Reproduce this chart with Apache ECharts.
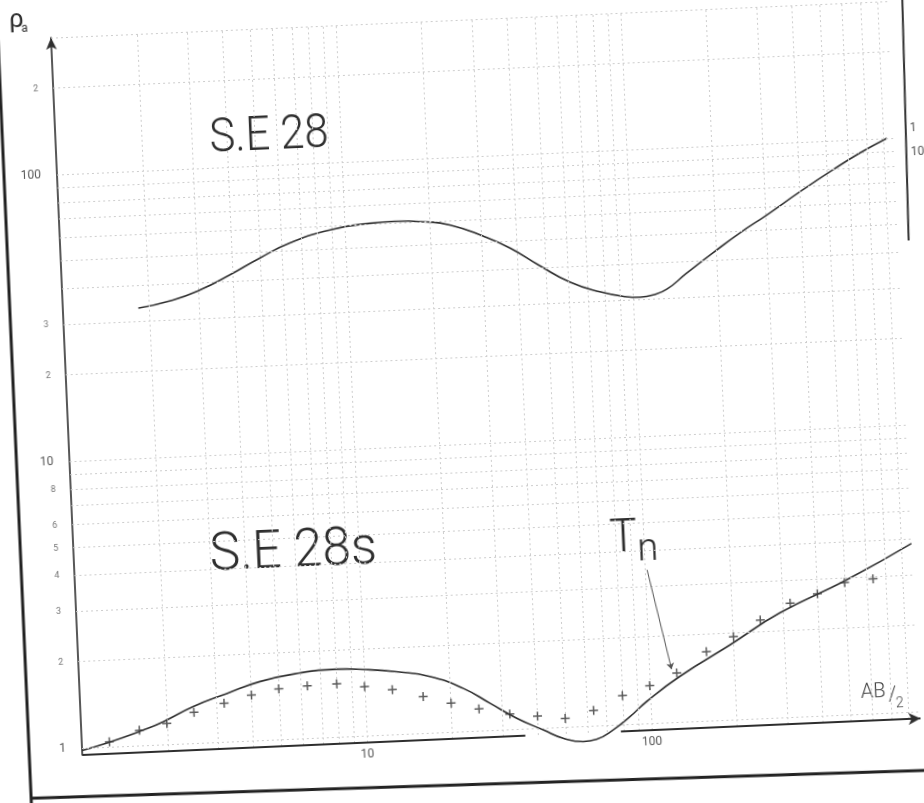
<!DOCTYPE html>
<html>
<head>
<meta charset="utf-8">
<script src="https://cdn.jsdelivr.net/npm/echarts@6/dist/echarts.min.js"></script>
<style>
html,body{margin:0;padding:0;background:#fff;overflow:hidden;width:924px;height:803px;}
#chart{position:absolute;left:0;top:0;width:990px;height:830px;transform-origin:82px 748px;transform:rotate(-2.5deg);}
</style>
</head>
<body>
<div id="chart"></div>
<script>
// ---- data (AB/2 in m, apparent resistivity in ohm.m) ----
const upperX = [1.84, 2.44, 3.05, 3.9, 5.0, 6.4, 8.9, 12.3, 15, 19, 23.4, 30.5, 37.8, 47.8, 60.5, 76.8, 94, 106, 118, 132, 156, 194, 243, 304, 400, 526, 658, 823];
const upperY = [33.3, 35.1, 37.7, 42.1, 47.7, 53.2, 58.3, 60.6, 61.0, 60.2, 58.2, 52.6, 47.3, 40.6, 35.3, 32.3, 30.8, 30.5, 30.9, 32.2, 36.4, 42.4, 49.3, 56.4, 67.1, 79.1, 89.7, 100];

const lowerX = [1.0, 1.22, 1.65, 1.95, 2.49, 3.28, 4.31, 5.97, 8.03, 9.96, 13.0, 17.0, 22.2, 27.4, 33.8, 41.7, 48.8, 57.3, 63.9, 73.3, 84.3, 97, 128, 194, 293, 508, 870];
const lowerY = [0.98, 1.03, 1.13, 1.20, 1.34, 1.47, 1.60, 1.69, 1.72, 1.70, 1.65, 1.57, 1.41, 1.24, 1.09, 0.983, 0.913, 0.883, 0.895, 0.959, 1.06, 1.19, 1.44, 1.82, 2.31, 2.94, 3.85];

const crossX = [1.25, 1.6, 2, 2.5, 3.2, 4, 5, 6.3, 8, 10, 12.5, 16, 20, 25, 32, 40, 50, 63, 80, 100, 125, 160, 200, 250, 320, 400, 500, 630];
const crossY = [1.04, 1.13, 1.18, 1.28, 1.36, 1.44, 1.50, 1.52, 1.53, 1.48, 1.43, 1.34, 1.26, 1.19, 1.13, 1.10, 1.07, 1.13, 1.26, 1.35, 1.48, 1.74, 1.94, 2.20, 2.49, 2.66, 2.88, 2.94];

const xTickLabels = [10, 100];
const yTickLabels = [1, 10, 100];
const yMinorLabels = [2, 3, 4, 5, 6, 8, 20, 30, 200];
const xGridValues = [2,3,4,5,6,7,8,9,10,20,30,40,50,60,70,80,90,100,200,300,400,500,600,700,800];
const yGridValues = [1,2,3,4,5,6,7,8,9,10,20,30,40,50,60,70,80,90,100,200,300];
const xMin = 1, xMax = 880, yMin = 0.945, yMax = 300;
const axisGap = [36, 78];
const tnArrowFrom = [102, 3.42];
const tnArrowTo = [120, 1.53];

// ---- chart ----
const chart = echarts.init(document.getElementById('chart'), null, {renderer: 'canvas'});
const pair = (xs, ys) => xs.map((x, i) => [x, ys[i]]);
const FONT = 'Roboto, "DejaVu Sans", sans-serif';
const INK = '#2e2e2e';
const isTick = (v, list) => {
  const r = Math.round(v);
  return r > 0 && Math.abs(v / r - 1) < 1e-6 && list.includes(r);
};

const gridData = [];
yGridValues.forEach(v => {
  const start = {coord: [xMin, v]};
  if (yMinorLabels.includes(v)) {
    start.label = {show: true, position: 'start', distance: 15, formatter: String(v).charAt(0), color: '#777', fontSize: 9, fontFamily: FONT};
  }
  gridData.push([start, {coord: [xMax, v]}]);
});
xGridValues.forEach(v => gridData.push([{coord: [v, yMin]}, {coord: [v, yMax]}]));

const plusPath = 'path://M5,0H7V5H12V7H7V12H5V7H0V5H5Z';

const option = {
  animation: false,
  backgroundColor: '#ffffff',
  grid: {left: 82, right: 990 - 82 - 839, top: 37, bottom: 830 - 755, containLabel: false},
  xAxis: {
    type: 'log', logBase: 10, min: xMin, max: xMax,
    axisLine: {show: false}, axisTick: {show: false}, splitLine: {show: false},
    axisLabel: {margin: 6, color: '#555', fontSize: 12, fontFamily: FONT,
      formatter: v => isTick(v, xTickLabels) ? String(Math.round(v)) : ''}
  },
  yAxis: {
    type: 'log', logBase: 10, min: yMin, max: yMax,
    axisLine: {show: true, symbol: ['none', 'arrow'], symbolSize: [8, 12], lineStyle: {color: INK, width: 1.6}},
    axisTick: {show: false}, splitLine: {show: false},
    axisLabel: {margin: 16, color: '#555', fontSize: 12, fontFamily: FONT,
      formatter: v => isTick(v, yTickLabels) ? String(Math.round(v)) : ''}
  },
  series: [
    {
      name: 'grid', type: 'line', data: [], symbol: 'none', silent: true, z: 1, clip: false,
      markLine: {silent: true, symbol: 'none', animation: false, label: {show: false},
        lineStyle: {color: '#cdcdcd', width: 1, type: [2, 3]}, emphasis: {disabled: true}, data: gridData}
    },
    {
      name: 'axis', type: 'line', data: [], symbol: 'none', silent: true, z: 3, clip: false,
      markLine: {silent: true, symbol: 'none', animation: false, label: {show: false},
        lineStyle: {color: INK, width: 2.2, type: 'solid'}, emphasis: {disabled: true},
        data: [
          [{coord: [xMin, yMin]}, {coord: [axisGap[0], yMin]}],
          [{coord: [axisGap[1], yMin]}, {coord: [xMax, yMin], symbol: 'arrow', symbolSize: [9, 12]}]
        ]}
    },
    {
      name: 'S.E 28', type: 'line', smooth: 0.5, symbol: 'none', z: 4,
      data: pair(upperX, upperY), lineStyle: {color: INK, width: 1.6}
    },
    {
      name: 'S.E 28s', type: 'line', smooth: 0.5, symbol: 'none', clip: false, z: 4,
      data: pair(lowerX, lowerY), lineStyle: {color: INK, width: 1.6}
    },
    {
      name: 'S.E 28s points', type: 'scatter', symbol: plusPath, symbolSize: 9, z: 5, clip: false,
      data: pair(crossX, crossY), itemStyle: {color: '#333'}
    },
    {
      name: 'Tn', type: 'line', data: [], symbol: 'none', silent: true, z: 5, clip: false,
      markLine: {silent: true, symbol: ['none', 'arrow'], symbolSize: 6, animation: false, label: {show: false},
        lineStyle: {color: '#555', width: 1, type: 'solid'}, emphasis: {disabled: true},
        data: [[{coord: tnArrowFrom}, {coord: tnArrowTo}]]}
    }
  ],
  graphic: [
    {type: 'line', shape: {x1: 29, y1: -40, x2: 29, y2: 860}, style: {stroke: '#222', lineWidth: 3}, silent: true},
    {type: 'line', shape: {x1: 29, y1: 796, x2: 1000, y2: 808}, style: {stroke: '#222', lineWidth: 3}, silent: true},
    {type: 'line', shape: {x1: 935, y1: -10, x2: 930, y2: 277}, style: {stroke: '#333', lineWidth: 2}, silent: true},
    {type: 'text', x: 936, y: 165, style: {text: '1', fontSize: 12, fontFamily: FONT, fill: '#555', textVerticalAlign: 'middle'}},
    {type: 'text', x: 936, y: 189, style: {text: '10', fontSize: 12, fontFamily: FONT, fill: '#555', textVerticalAlign: 'middle'}},
    {type: 'text', x: 236, y: 146, scaleX: 0.9, style: {text: 'S.E 28', fontSize: 48, fontWeight: 300, fontFamily: FONT, fill: INK, textAlign: 'left', textVerticalAlign: 'middle'}},
    {type: 'text', x: 218, y: 562, scaleX: 0.95, style: {text: 'S.E 28s', fontSize: 54, fontWeight: 300, fontFamily: FONT, fill: INK, textAlign: 'left', textVerticalAlign: 'middle'}},
    {type: 'text', x: 632, y: 563, style: {text: 'T', fontSize: 46, fontWeight: 300, fontFamily: FONT, fill: INK, textAlign: 'center', textVerticalAlign: 'middle'}},
    {type: 'text', x: 656, y: 575, style: {text: 'n', fontSize: 38, fontWeight: 300, fontFamily: FONT, fill: INK, textAlign: 'center', textVerticalAlign: 'middle'}},
    {type: 'text', x: 875, y: 727, style: {text: 'AB', fontSize: 20, fontWeight: 300, fontFamily: FONT, fill: '#444', textAlign: 'center', textVerticalAlign: 'middle'}},
    {type: 'text', x: 894, y: 731, style: {text: '/', fontSize: 20, fontWeight: 300, fontFamily: FONT, fill: '#444', textAlign: 'center', textVerticalAlign: 'middle'}},
    {type: 'text', x: 901, y: 739, style: {text: '2', fontSize: 14, fontWeight: 300, fontFamily: FONT, fill: '#444', textAlign: 'center', textVerticalAlign: 'middle'}},
    {type: 'text', x: 48, y: 18, style: {text: 'ρ', fontSize: 26, fontFamily: FONT, fill: INK, textAlign: 'center', textVerticalAlign: 'middle'}},
    {type: 'text', x: 56, y: 27, style: {text: 'a', fontSize: 12, fontFamily: FONT, fill: INK, textAlign: 'center', textVerticalAlign: 'middle'}}
  ]
};
chart.setOption(option);
</script>
</body>
</html>
